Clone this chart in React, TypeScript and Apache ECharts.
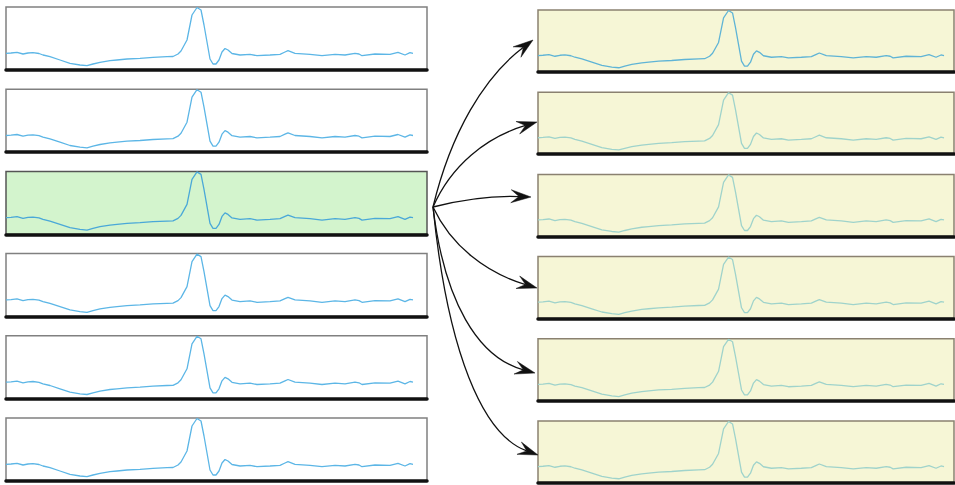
import React, { useEffect, useRef } from "react";
import * as echarts from "echarts";

// Sample positions (time index) and amplitudes of the waveform
const TIME = [0, 5, 11, 17, 22, 27, 33, 37, 44, 54, 64, 74, 81, 87, 94, 104, 111, 121, 134, 147, 161, 167, 172, 175, 181, 186, 191, 195, 198, 201, 204, 207, 210, 213, 216, 219, 222, 226, 234, 244, 251, 264, 274, 279, 282, 289, 304, 316, 329, 339, 349, 353, 356, 369, 384, 392, 399, 404, 407];
const AMP = [16.7, 17, 17.7, 16, 17, 17.3, 16.5, 15, 13.3, 10, 6.7, 5, 4.3, 6, 7.7, 9.3, 10, 11, 11.7, 12.7, 13.3, 13.5, 16, 19, 30, 55, 62.5, 60, 45, 28, 11, 6, 6, 10, 18, 21.5, 20, 16.5, 15, 15.7, 14.3, 15, 15.7, 18, 19.3, 16.7, 15.7, 14.3, 15.7, 15, 16.7, 16, 14.3, 16, 15.7, 17.7, 15, 17.3, 16.7];

// Panels: left column (index 2 highlighted), right column (copies)
const LEFT_PANELS = ["plain", "plain", "selected", "plain", "plain", "plain"];
const RIGHT_PANELS = ["first", "copy", "copy", "copy", "copy", "copy"];

const W = 955;
const H = 485;
const STEP = 82.2;

export default function App() {
  const ref = useRef<HTMLDivElement>(null);

  useEffect(() => {
    if (!ref.current) return;
    const chart = echarts.init(ref.current, null, { renderer: "svg" });
    const data = TIME.map((t, i) => [t, AMP[i]]);

    const grids: any[] = [];
    const xAxes: any[] = [];
    const yAxes: any[] = [];
    const series: any[] = [];

    const addPanel = (
      left: number,
      top: number,
      width: number,
      height: number,
      bg: string,
      border: string,
      lineColor: string,
      xMax: number
    ) => {
      const idx = grids.length;
      grids.push({
        left,
        top,
        width,
        height,
        show: true,
        backgroundColor: bg,
        borderColor: border,
        borderWidth: 1.5,
      });
      xAxes.push({
        type: "value",
        gridIndex: idx,
        min: 0,
        max: xMax,
        axisLine: { show: true, onZero: false, lineStyle: { color: "#111", width: 3.5 } },
        axisTick: { show: false },
        axisLabel: { show: false },
        splitLine: { show: false },
      });
      yAxes.push({
        type: "value",
        gridIndex: idx,
        min: 0,
        max: 63,
        show: false,
        splitLine: { show: false },
      });
      series.push({
        type: "line",
        xAxisIndex: idx,
        yAxisIndex: idx,
        data,
        symbol: "none",
        smooth: false,
        lineStyle: { color: lineColor, width: 1.3 },
        silent: true,
      });
    };

    LEFT_PANELS.forEach((kind, i) => {
      const sel = kind === "selected";
      addPanel(
        6,
        7 + i * STEP,
        421,
        63,
        sel ? "#d3f4cd" : "#ffffff",
        sel ? "#555555" : "#808080",
        sel ? "#4aa8d8" : "#5cb6e6",
        421
      );
    });
    RIGHT_PANELS.forEach((kind, i) => {
      const first = kind === "first";
      addPanel(
        538,
        10 + i * STEP,
        416,
        62,
        "#f6f6d6",
        "#8a8170",
        first ? "#5fb4d6" : "#9fd3cb",
        417
      );
    });

    // Arrows from the selected panel to every copy
    const origin = [433, 207];
    const arrows = [
      { tip: [533, 40], c: [460, 95] },
      { tip: [537, 122], c: [460, 145] },
      { tip: [531, 197], c: [480, 195] },
      { tip: [537, 288], c: [460, 265] },
      { tip: [535, 373], c: [450, 350] },
      { tip: [538, 455], c: [455, 425] },
    ];
    const graphics: any[] = [];
    arrows.forEach((a) => {
      const [x0, y0] = origin;
      const [x2, y2] = a.tip;
      const [cx, cy] = a.c;
      let dx = x2 - cx;
      let dy = y2 - cy;
      const len = Math.hypot(dx, dy);
      dx /= len;
      dy /= len;
      const nx = -dy;
      const ny = dx;
      const L = 20;
      const Wd = 6.5;
      const ex = x2 - dx * L * 0.6;
      const ey = y2 - dy * L * 0.6;
      graphics.push({
        type: "bezierCurve",
        silent: true,
        shape: {
          x1: x0,
          y1: y0,
          cpx1: x0 + (2 / 3) * (cx - x0),
          cpy1: y0 + (2 / 3) * (cy - y0),
          cpx2: x2 + (2 / 3) * (cx - x2),
          cpy2: y2 + (2 / 3) * (cy - y2),
          x2: ex,
          y2: ey,
        },
        style: { stroke: "#111", lineWidth: 1.3, fill: null },
      });
      graphics.push({
        type: "polygon",
        silent: true,
        shape: {
          points: [
            [x2, y2],
            [x2 - dx * L + nx * Wd, y2 - dy * L + ny * Wd],
            [ex, ey],
            [x2 - dx * L - nx * Wd, y2 - dy * L - ny * Wd],
          ],
        },
        style: { fill: "#111", stroke: "#111", lineWidth: 0.5 },
      });
    });

    chart.setOption({
      animation: false,
      backgroundColor: "#ffffff",
      grid: grids,
      xAxis: xAxes,
      yAxis: yAxes,
      series,
      graphic: graphics,
    });
    return () => chart.dispose();
  }, []);

  return (
    <div
      ref={ref}
      style={{ position: "fixed", left: 0, top: 0, width: W, height: H }}
    />
  );
}
